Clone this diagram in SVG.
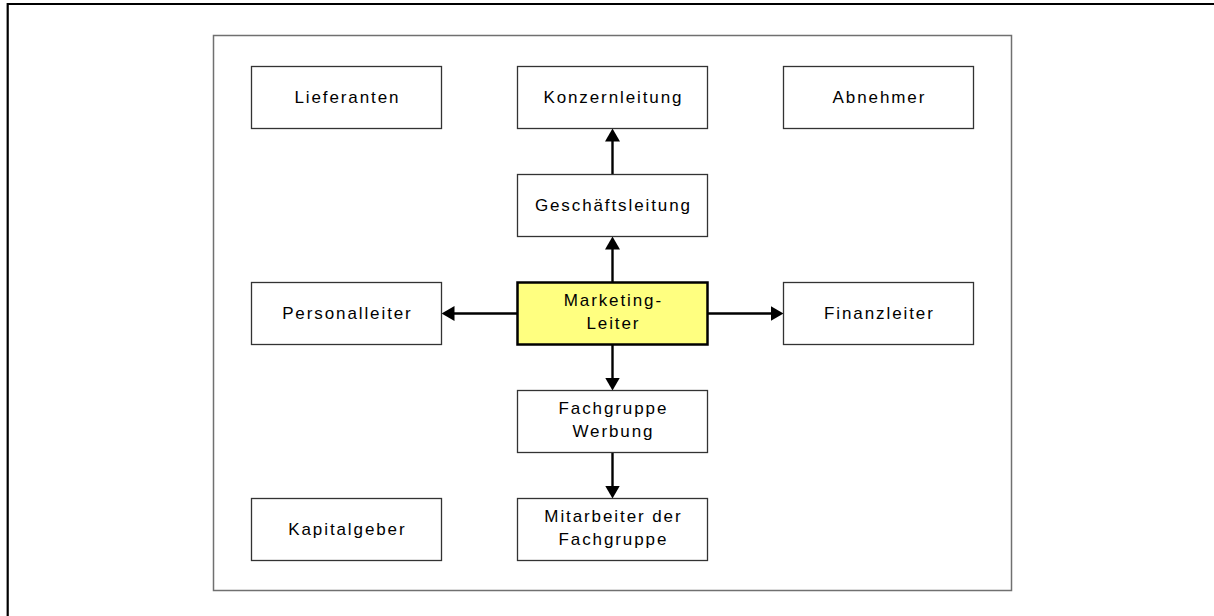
<svg xmlns="http://www.w3.org/2000/svg" width="1214" height="616" viewBox="0 0 1214 616">
<style>
.box{fill:#ffffff;stroke:#333333;stroke-width:1.3}
.main{fill:#ffff80;stroke:#000000;stroke-width:2.5}
.lbl{font-family:"Liberation Sans",Arial,sans-serif;font-size:17px;letter-spacing:1.9px;fill:#000000;text-anchor:middle}
.con{stroke:#000000;stroke-width:2.4;fill:none;marker-end:url(#arr)}
</style>
<defs>
<marker id="arr" viewBox="0 0 13 15" refX="3" refY="7.5" markerWidth="13" markerHeight="15" markerUnits="userSpaceOnUse" orient="auto">
<path d="M0,0 L13,7.5 L0,15 z" fill="#000000"/>
</marker>
</defs>
<rect x="0" y="0" width="1214" height="616" fill="#ffffff"/>
<path d="M7.7 616 V4 H1214" fill="none" stroke="#000000" stroke-width="2.2"/>
<rect x="213.5" y="35.5" width="798" height="555" fill="none" stroke="#707070" stroke-width="1.5"/>
<g id="connectors">
<line class="con" x1="612.5" y1="174.5" x2="612.5" y2="138.5"/>
<line class="con" x1="612.5" y1="282.5" x2="612.5" y2="246.5"/>
<line class="con" x1="612.5" y1="344.5" x2="612.5" y2="380.5"/>
<line class="con" x1="612.5" y1="452.5" x2="612.5" y2="488.5"/>
<line class="con" x1="517.5" y1="313.5" x2="451.5" y2="313.5"/>
<line class="con" x1="707.5" y1="313.5" x2="773.5" y2="313.5"/>
</g>
<g id="lieferanten">
<rect class="box" x="251.5" y="66.5" width="190" height="62"/>
<text class="lbl" x="347.4" y="102.5">Lieferanten</text>
</g>
<g id="konzernleitung">
<rect class="box" x="517.5" y="66.5" width="190" height="62"/>
<text class="lbl" x="613.4" y="102.5">Konzernleitung</text>
</g>
<g id="abnehmer">
<rect class="box" x="783.5" y="66.5" width="190" height="62"/>
<text class="lbl" x="879.4" y="102.5">Abnehmer</text>
</g>
<g id="geschaeftsleitung">
<rect class="box" x="517.5" y="174.5" width="190" height="62"/>
<text class="lbl" x="613.4" y="210.5">Geschäftsleitung</text>
</g>
<g id="personalleiter">
<rect class="box" x="251.5" y="282.5" width="190" height="62"/>
<text class="lbl" x="347.4" y="318.5">Personalleiter</text>
</g>
<g id="marketing">
<rect class="main" x="517.5" y="282.5" width="190" height="62"/>
<text class="lbl" x="613.4" y="305.5">Marketing-</text>
<text class="lbl" x="613.4" y="329">Leiter</text>
</g>
<g id="finanzleiter">
<rect class="box" x="783.5" y="282.5" width="190" height="62"/>
<text class="lbl" x="879.4" y="318.5">Finanzleiter</text>
</g>
<g id="fachgruppe">
<rect class="box" x="517.5" y="390.5" width="190" height="62"/>
<text class="lbl" x="613.4" y="413.5">Fachgruppe</text>
<text class="lbl" x="613.4" y="437">Werbung</text>
</g>
<g id="kapitalgeber">
<rect class="box" x="251.5" y="498.5" width="190" height="62"/>
<text class="lbl" x="347.4" y="534.5">Kapitalgeber</text>
</g>
<g id="mitarbeiter">
<rect class="box" x="517.5" y="498.5" width="190" height="62"/>
<text class="lbl" x="613.4" y="521.5">Mitarbeiter der</text>
<text class="lbl" x="613.4" y="545">Fachgruppe</text>
</g>
</svg>
